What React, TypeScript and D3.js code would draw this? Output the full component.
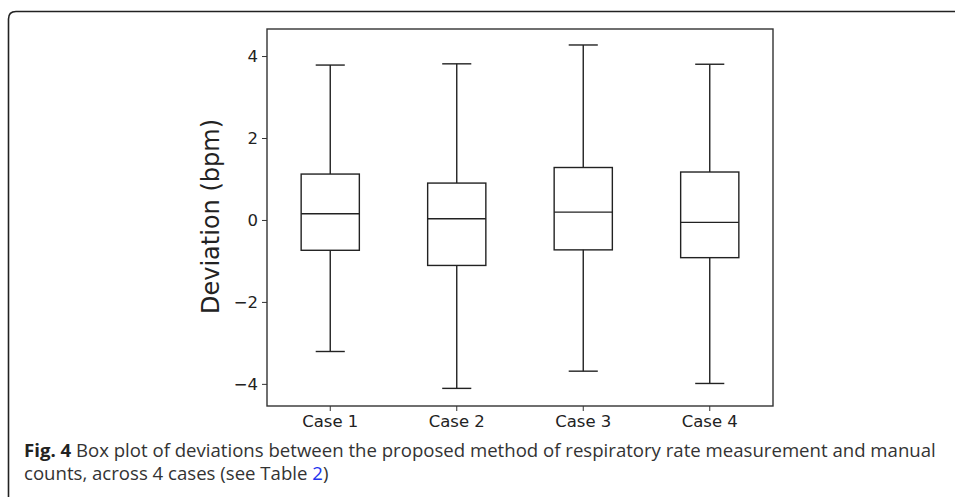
import React, {useEffect, useRef} from 'react'
import * as d3 from 'd3'

const width = 955
const height = 497
const margin = {top: 29, right: 182, bottom: 91, left: 267}

// box plot stats
const cases = ['Case 1', 'Case 2', 'Case 3', 'Case 4']
const whiskerHigh = [3.78, 3.81, 4.27, 3.8]
const q3 = [1.12, 0.9, 1.28, 1.17]
const medians = [0.15, 0.03, 0.19, -0.06]
const q1 = [-0.74, -1.11, -0.73, -0.92]
const whiskerLow = [-3.21, -4.11, -3.69, -3.99]
const yTicks = [-4, -2, 0, 2, 4]

const lineColor = '#222'
const axisColor = '#333'
const mplFont = "'DejaVu Sans', sans-serif"

export default function App() {
  const ref = useRef<SVGSVGElement | null>(null)

  useEffect(() => {
    const svgRoot = d3.select(ref.current)
    svgRoot.selectAll('*').remove()

    const w = width - margin.left - margin.right
    const h = height - margin.top - margin.bottom

    // outer figure frame (only top and left visible, rounded corner)
    svgRoot.append('path')
      .attr('d', 'M 8.5 ' + (height + 5) + ' L 8.5 19 Q 8.5 11.5 16 11.5 L ' + (width + 5) + ' 11.5')
      .attr('fill', 'none')
      .attr('stroke', '#222')
      .attr('stroke-width', 1.6)

    const g = svgRoot.append('g')
      .attr('transform', 'translate(' + margin.left + ',' + margin.top + ')')

    const x = d3.scaleBand().domain(cases).range([0, w]).padding(0)
    const y = d3.scaleLinear().domain([-4.54, 4.66]).range([h, 0])
    const boxW = x.bandwidth() * 0.46

    const data = cases.map((c, i) => ({
      c, hi: whiskerHigh[i], q3: q3[i], med: medians[i], q1: q1[i], lo: whiskerLow[i]
    }))

    const boxes = g.selectAll('g.box').data(data).enter().append('g')
      .attr('class', 'box')
      .attr('transform', d => 'translate(' + ((x(d.c) as number) + x.bandwidth() / 2) + ',0)')

    // whiskers
    boxes.append('line').attr('x1', 0).attr('x2', 0).attr('y1', d => y(d.q3)).attr('y2', d => y(d.hi))
    boxes.append('line').attr('x1', 0).attr('x2', 0).attr('y1', d => y(d.q1)).attr('y2', d => y(d.lo))
    // caps
    boxes.append('line').attr('x1', -boxW / 4).attr('x2', boxW / 4).attr('y1', d => y(d.hi)).attr('y2', d => y(d.hi))
    boxes.append('line').attr('x1', -boxW / 4).attr('x2', boxW / 4).attr('y1', d => y(d.lo)).attr('y2', d => y(d.lo))
    // box
    boxes.append('rect')
      .attr('x', -boxW / 2).attr('width', boxW)
      .attr('y', d => y(d.q3)).attr('height', d => y(d.q1) - y(d.q3))
      .attr('fill', 'none')
    // median
    boxes.append('line').attr('x1', -boxW / 2).attr('x2', boxW / 2).attr('y1', d => y(d.med)).attr('y2', d => y(d.med))

    boxes.selectAll('line, rect')
      .attr('stroke', lineColor)
      .attr('stroke-width', 1.4)

    // axes
    const xAxis = g.append('g')
      .attr('transform', 'translate(0,' + h + ')')
      .call(d3.axisBottom(x).tickSize(5).tickPadding(4))
    const yAxis = g.append('g')
      .call(d3.axisLeft(y).tickValues(yTicks).tickSize(5).tickPadding(4).tickFormat(d => d3.format('d')(d as number).replace('-', '\u2212')))

    for (const ax of [xAxis, yAxis]) {
      ax.attr('font-family', null).attr('font-size', null)
      ax.select('.domain').remove()
      ax.selectAll('.tick line').attr('stroke', axisColor).attr('stroke-width', 1)
      ax.selectAll('.tick text')
        .attr('fill', '#222')
        .style('font-family', mplFont)
        .style('font-size', '16.5px')
    }

    // frame of the axes
    g.append('rect')
      .attr('x', 0).attr('y', 0).attr('width', w).attr('height', h)
      .attr('fill', 'none')
      .attr('stroke', axisColor)
      .attr('stroke-width', 1.4)

    g.append('text')
      .attr('transform', 'translate(' + (-48) + ',' + (h / 2 - 1) + ') rotate(-90)')
      .attr('text-anchor', 'middle')
      .style('font-family', mplFont)
      .style('font-size', '24px')
      .attr('fill', '#222')
      .text('Deviation (bpm)')

    // caption
    const cap = svgRoot.append('g')
      .style('font-family', "'Open Sans', sans-serif")
      .style('font-size', '18.6px')
      .attr('fill', '#333')
    const line1 = cap.append('text').attr('x', 24).attr('y', 457)
    line1.append('tspan').attr('font-weight', 700).attr('fill', '#222').text('Fig. 4')
    line1.append('tspan').text(' Box plot of deviations between the proposed method of respiratory rate measurement and manual')
    const line2 = cap.append('text').attr('x', 24).attr('y', 480)
    line2.append('tspan').text('counts, across 4 cases (see Table ')
    line2.append('tspan').attr('fill', '#2233ee').text('2')
    line2.append('tspan').text(')')
  }, [])

  return (
    <svg ref={ref} width={width} height={height}
      style={{position: 'absolute', left: 0, top: 0, background: '#fff'}} />
  )
}
